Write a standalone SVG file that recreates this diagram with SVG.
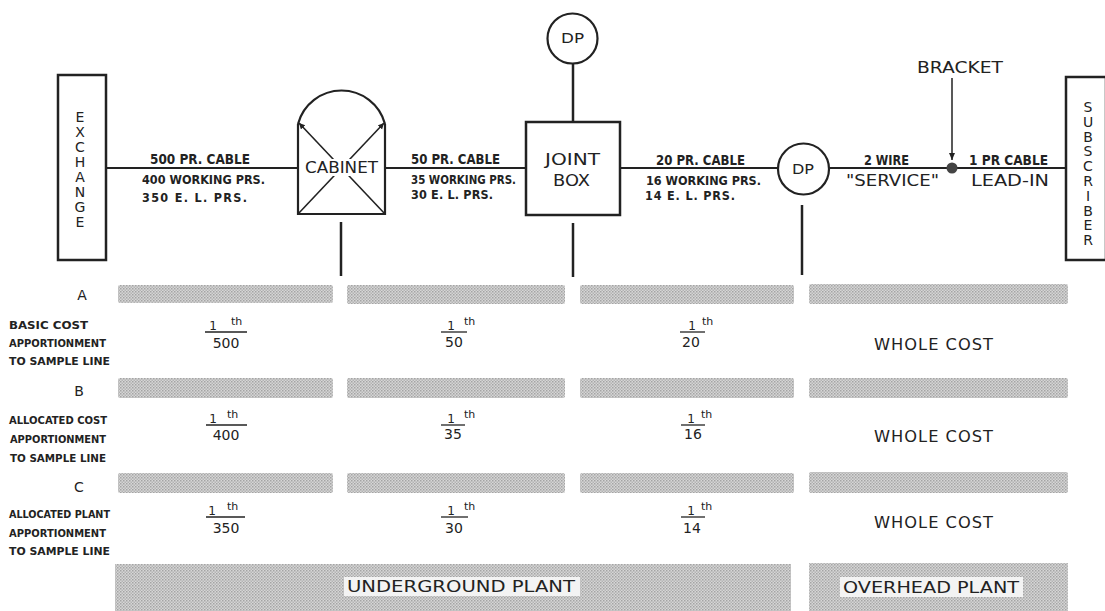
<svg xmlns="http://www.w3.org/2000/svg" width="1105" height="611" viewBox="0 0 1105 611">
<style>
.ln{stroke:#222;stroke-width:2;fill:none}
.bx{stroke:#222;stroke-width:2.5;fill:#fff}
.c{font-family:"DejaVu Sans Condensed","DejaVu Sans",sans-serif;font-weight:bold;fill:#222}
.r{font-family:"DejaVu Sans","Liberation Sans",sans-serif;fill:#222}
.hb{fill:url(#ht)}
.lab{font-size:11px}
.cab{font-size:14px}
.cab2{font-size:12.5px}
.num{font-size:12px;text-anchor:middle}
.th{font-size:11px}
.den{font-size:14px;text-anchor:middle}
.wc{font-size:16px;text-anchor:middle;letter-spacing:1px}
.vt{font-size:14px;text-anchor:middle}
</style>
<defs>
<pattern id="ht" width="3" height="3" patternUnits="userSpaceOnUse">
<rect width="3" height="3" fill="#d6d6d6"/>
<rect width="1.5" height="1.5" fill="#a4a4a4"/>
<rect x="1.5" y="1.5" width="1.5" height="1.5" fill="#b4b4b4"/>
</pattern>
<marker id="tip" markerWidth="8" markerHeight="8" refX="6" refY="3" orient="auto" markerUnits="userSpaceOnUse">
<path d="M0,0 L6,3 L0,6 Z" fill="#222"/>
</marker>
<marker id="arr" markerWidth="8" markerHeight="8" refX="7" refY="3" orient="auto" markerUnits="userSpaceOnUse">
<path d="M0,0 L7,3 L0,6 Z" fill="#222"/>
</marker>
</defs>
<rect width="1105" height="611" fill="#fff"/>

<g id="connectors">
<line class="ln" x1="106" y1="168" x2="298" y2="168"/>
<line class="ln" x1="385" y1="168" x2="526" y2="168"/>
<line class="ln" x1="620" y1="168" x2="778" y2="168"/>
<line class="ln" x1="829" y1="168" x2="1066" y2="168"/>
<line class="ln" x1="573" y1="64" x2="573" y2="122" style="stroke-width:2.5"/>
<line class="ln" x1="341" y1="222" x2="341" y2="276" style="stroke-width:2.5"/>
<line class="ln" x1="573" y1="223" x2="573" y2="277" style="stroke-width:2.5"/>
<line class="ln" x1="802" y1="205" x2="802" y2="275" style="stroke-width:2.5"/>
<line class="ln" x1="952" y1="78" x2="952" y2="160" style="stroke-width:1.5" marker-end="url(#arr)"/>
</g>

<g id="cable-labels">
<text class="c cab" x="150" y="164" textLength="100" lengthAdjust="spacingAndGlyphs">500 PR. CABLE</text>
<text class="c cab2" x="142" y="184" textLength="123" lengthAdjust="spacingAndGlyphs">400 WORKING PRS.</text>
<text class="c cab2" x="142" y="202" textLength="105" lengthAdjust="spacing">350  E. L. PRS.</text>
<text class="c cab" x="411" y="164" textLength="89" lengthAdjust="spacingAndGlyphs">50 PR. CABLE</text>
<text class="c cab2" x="411" y="184" textLength="105" lengthAdjust="spacingAndGlyphs">35 WORKING PRS.</text>
<text class="c cab2" x="411" y="199" textLength="82" lengthAdjust="spacing">30  E. L. PRS.</text>
<text class="c cab" x="656" y="165" textLength="89" lengthAdjust="spacingAndGlyphs">20 PR. CABLE</text>
<text class="c cab2" x="646" y="185" textLength="115" lengthAdjust="spacingAndGlyphs">16 WORKING PRS.</text>
<text class="c cab2" x="645" y="200" textLength="90" lengthAdjust="spacing">14  E. L. PRS.</text>
<text class="c cab" x="864" y="165" textLength="45" lengthAdjust="spacingAndGlyphs">2 WIRE</text>
<text class="r" x="846" y="186" font-size="15" textLength="93" lengthAdjust="spacingAndGlyphs">"SERVICE"</text>
<text class="c cab" x="969" y="165" textLength="79" lengthAdjust="spacingAndGlyphs">1 PR CABLE</text>
<text class="r" x="971" y="186" font-size="15" textLength="78" lengthAdjust="spacingAndGlyphs">LEAD-IN</text>
</g>

<g id="exchange">
<rect class="bx" x="58" y="75" width="48" height="185"/>
<text class="r vt"><tspan x="80" y="122">E</tspan><tspan x="80" y="137">X</tspan><tspan x="80" y="152">C</tspan><tspan x="80" y="167">H</tspan><tspan x="80" y="182">A</tspan><tspan x="80" y="197">N</tspan><tspan x="80" y="212">G</tspan><tspan x="80" y="227">E</tspan></text>
</g>

<g id="cabinet">
<path class="ln" d="M298,124 A45,45 0 0 1 385,124" style="stroke-width:2.2"/>
<path class="ln" d="M298,124 L298,214 L385,214 L385,124" style="stroke-width:2.2"/>
<line class="ln" x1="385" y1="214" x2="299" y2="123" style="stroke-width:1.6" marker-end="url(#tip)"/>
<line class="ln" x1="298" y1="214" x2="384" y2="123" style="stroke-width:1.6" marker-end="url(#tip)"/>
<rect x="303" y="159" width="78" height="17" fill="#fff"/>
<text class="r" x="305" y="173" font-size="15" textLength="73" lengthAdjust="spacingAndGlyphs">CABINET</text>
</g>

<g id="dp-top">
<circle cx="572.5" cy="38.5" r="25" class="bx" style="stroke-width:2.2"/>
<text class="r" x="561" y="43" font-size="14" textLength="23" lengthAdjust="spacingAndGlyphs">DP</text>
</g>

<g id="joint-box">
<rect class="bx" x="526" y="122" width="94" height="93"/>
<text class="r" x="545" y="165" font-size="15" textLength="55" lengthAdjust="spacingAndGlyphs">JOINT</text>
<text class="r" x="553" y="186" font-size="15" textLength="37" lengthAdjust="spacingAndGlyphs">BOX</text>
</g>

<g id="dp-service">
<circle cx="803.5" cy="169" r="25.5" class="bx" style="stroke-width:2.2"/>
<text class="r" x="792" y="174" font-size="14" textLength="22" lengthAdjust="spacingAndGlyphs">DP</text>
</g>

<g id="bracket">
<circle cx="952" cy="168" r="5.5" fill="#444"/>
<text class="r" x="917" y="73" font-size="15" textLength="86" lengthAdjust="spacingAndGlyphs">BRACKET</text>
</g>

<g id="subscriber">
<rect class="bx" x="1066" y="77" width="40" height="183"/>
<text class="r vt"><tspan x="1088" y="112">S</tspan><tspan x="1088" y="126.8">U</tspan><tspan x="1088" y="141.6">B</tspan><tspan x="1088" y="156.4">S</tspan><tspan x="1088" y="171.2">C</tspan><tspan x="1088" y="186">R</tspan><tspan x="1088" y="200.8">I</tspan><tspan x="1088" y="215.6">B</tspan><tspan x="1088" y="230.4">E</tspan><tspan x="1088" y="245.2">R</tspan></text>
</g>

<g id="bars">
<rect class="hb" x="118" y="285" width="215" height="18" rx="2"/>
<rect class="hb" x="347" y="285" width="218" height="19" rx="2"/>
<rect class="hb" x="580" y="285" width="214" height="19" rx="2"/>
<rect class="hb" x="809" y="284" width="259" height="20" rx="2"/>
<rect class="hb" x="118" y="378" width="215" height="20" rx="2"/>
<rect class="hb" x="347" y="378" width="218" height="20" rx="2"/>
<rect class="hb" x="580" y="378" width="214" height="20" rx="2"/>
<rect class="hb" x="809" y="378" width="259" height="20" rx="2"/>
<rect class="hb" x="118" y="473" width="215" height="20" rx="2"/>
<rect class="hb" x="347" y="473" width="218" height="20" rx="2"/>
<rect class="hb" x="580" y="473" width="214" height="20" rx="2"/>
<rect class="hb" x="809" y="472" width="259" height="21" rx="2"/>
</g>

<g id="row-a">
<text class="r" x="82" y="300" font-size="14" text-anchor="middle">A</text>
<text class="c lab" x="9" y="329" textLength="79" lengthAdjust="spacingAndGlyphs">BASIC COST</text>
<text class="c lab" x="9" y="347" textLength="97" lengthAdjust="spacingAndGlyphs">APPORTIONMENT</text>
<text class="c lab" x="9" y="365" textLength="101" lengthAdjust="spacingAndGlyphs">TO SAMPLE LINE</text>
</g>
<g id="row-b">
<text class="r" x="79" y="396" font-size="14" text-anchor="middle">B</text>
<text class="c lab" x="9" y="424" textLength="98" lengthAdjust="spacingAndGlyphs">ALLOCATED COST</text>
<text class="c lab" x="10" y="443" textLength="96" lengthAdjust="spacingAndGlyphs">APPORTIONMENT</text>
<text class="c lab" x="10" y="462" textLength="96" lengthAdjust="spacingAndGlyphs">TO SAMPLE LINE</text>
</g>
<g id="row-c">
<text class="r" x="79" y="492" font-size="14" text-anchor="middle">C</text>
<text class="c lab" x="9" y="518" textLength="101" lengthAdjust="spacingAndGlyphs">ALLOCATED PLANT</text>
<text class="c lab" x="9" y="537" textLength="97" lengthAdjust="spacingAndGlyphs">APPORTIONMENT</text>
<text class="c lab" x="9" y="555" textLength="101" lengthAdjust="spacingAndGlyphs">TO SAMPLE LINE</text>
</g>

<g id="fractions">
<line class="ln" x1="205" y1="332" x2="247" y2="332" style="stroke-width:1.3"/>
<text class="r num" x="213" y="330">1</text><text class="r th" x="231" y="325">th</text>
<text class="r den" x="226" y="348">500</text>
<line class="ln" x1="441" y1="332" x2="467" y2="332" style="stroke-width:1.3"/>
<text class="r num" x="451" y="330">1</text><text class="r th" x="464" y="325">th</text>
<text class="r den" x="454" y="347">50</text>
<line class="ln" x1="680" y1="332" x2="705" y2="332" style="stroke-width:1.3"/>
<text class="r num" x="692" y="330">1</text><text class="r th" x="702" y="325">th</text>
<text class="r den" x="691" y="347">20</text>
<line class="ln" x1="206" y1="425" x2="247" y2="425" style="stroke-width:1.3"/>
<text class="r num" x="213" y="423">1</text><text class="r th" x="227" y="418">th</text>
<text class="r den" x="226" y="440">400</text>
<line class="ln" x1="441" y1="425" x2="465" y2="425" style="stroke-width:1.3"/>
<text class="r num" x="451" y="423">1</text><text class="r th" x="464" y="418">th</text>
<text class="r den" x="453" y="439">35</text>
<line class="ln" x1="681" y1="425" x2="705" y2="425" style="stroke-width:1.3"/>
<text class="r num" x="691" y="423">1</text><text class="r th" x="701" y="418">th</text>
<text class="r den" x="693" y="439">16</text>
<line class="ln" x1="206" y1="517" x2="245" y2="517" style="stroke-width:1.3"/>
<text class="r num" x="212" y="515">1</text><text class="r th" x="227" y="510">th</text>
<text class="r den" x="226" y="533">350</text>
<line class="ln" x1="441" y1="517" x2="468" y2="517" style="stroke-width:1.3"/>
<text class="r num" x="451" y="515">1</text><text class="r th" x="464" y="510">th</text>
<text class="r den" x="454" y="533">30</text>
<line class="ln" x1="681" y1="517" x2="705" y2="517" style="stroke-width:1.3"/>
<text class="r num" x="691" y="515">1</text><text class="r th" x="701" y="510">th</text>
<text class="r den" x="692" y="533">14</text>
</g>

<g id="whole-cost">
<text class="r wc" x="934" y="350" textLength="120" lengthAdjust="spacingAndGlyphs">WHOLE COST</text>
<text class="r wc" x="934" y="442" textLength="120" lengthAdjust="spacingAndGlyphs">WHOLE COST</text>
<text class="r wc" x="934" y="528" textLength="120" lengthAdjust="spacingAndGlyphs">WHOLE COST</text>
</g>

<g id="underground-plant">
<rect class="hb" x="115" y="564" width="676" height="47"/>
<rect x="344" y="577" width="236" height="19" fill="#f3f3f3"/>
<text class="r" x="347" y="592" font-size="16" textLength="228" lengthAdjust="spacingAndGlyphs">UNDERGROUND  PLANT</text>
</g>
<g id="overhead-plant">
<rect class="hb" x="809" y="563" width="259" height="48"/>
<rect x="840" y="577" width="183" height="20" fill="#f3f3f3"/>
<text class="r" x="843" y="593" font-size="16" textLength="176" lengthAdjust="spacingAndGlyphs">OVERHEAD  PLANT</text>
</g>
</svg>
